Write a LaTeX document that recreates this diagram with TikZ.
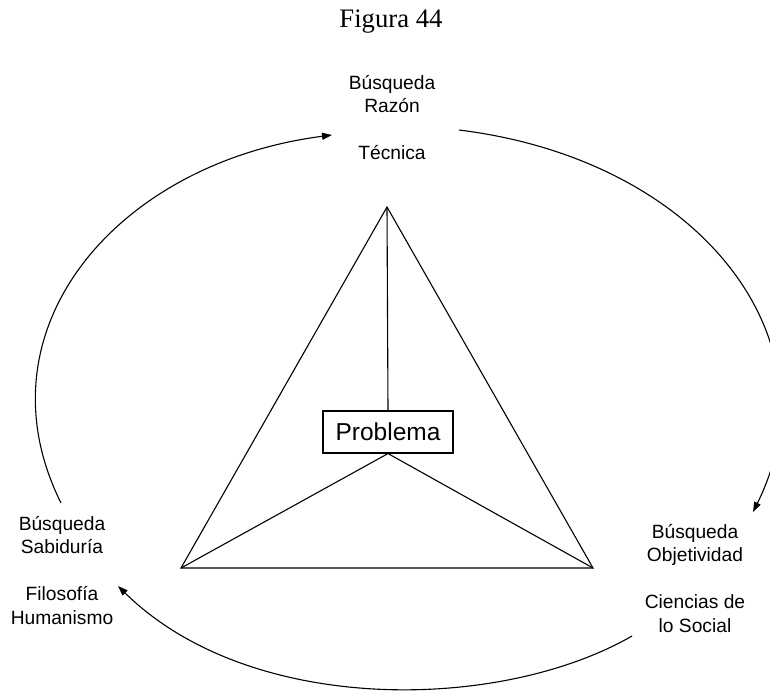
\documentclass[tikz,border=0pt]{standalone}
\usepackage{fontspec}
\setmainfont{Liberation Serif}
\setsansfont{Liberation Sans}
\usetikzlibrary{arrows.meta}
\begin{document}
\begin{tikzpicture}[x=1pt,y=-1pt,
  textblock/.style={font=\sffamily\fontsize{19.2}{23.5}\selectfont, align=center, inner sep=0pt, anchor=north},
  edge/.style={line width=1.1pt, line join=miter},
  flow/.style={line width=1.1pt, -{Triangle[length=10pt,width=7pt]}}]
\useasboundingbox (0,0) rectangle (770,690);

% caption
\node[font=\fontsize{26.7}{30}\selectfont, anchor=base, inner sep=0pt] (title) at (391,28) {Figura 44};

% the three labelled poles
\node[textblock] (top) at (392,74.7) {Búsqueda\\Razón\\[23.5pt]Técnica};
\node[textblock] (left) at (62,515.7) {Búsqueda\\Sabiduría\\[23.5pt]Filosofía\\Humanismo};
\node[textblock] (right) at (695,523.7) {Búsqueda\\Objetividad\\[23.5pt]Ciencias de\\lo Social};

% central box
\node[draw, line width=1.1pt, font=\sffamily\fontsize{24.5}{28}\selectfont,
      minimum width=130pt, minimum height=42pt, inner sep=0pt] (problem) at (388,432) {Problema};

% triangle
\coordinate (apex) at (387,207);
\coordinate (bl) at (181,568);
\coordinate (br) at (593,568);
\draw[edge] (apex) -- (bl) -- (br) -- cycle;
\draw[edge] (apex) -- (problem.north);
\draw[edge] (bl) -- (problem.south) -- (br);

% circular flow between the poles
\coordinate (la) at (61,503);
\coordinate (lb) at (332,135);
\coordinate (ra) at (459,130);
\coordinate (rb) at (753,512);
\coordinate (ba) at (632,636);
\coordinate (bb) at (118,586);
\draw[flow] (la) .. controls (-25,330) and (116,163) .. (lb);
\draw[flow] (ra) .. controls (702,160) and (838,341) .. (rb);
\draw[flow] (ba) .. controls (500,712) and (250,716) .. (bb);
\end{tikzpicture}
\end{document}
